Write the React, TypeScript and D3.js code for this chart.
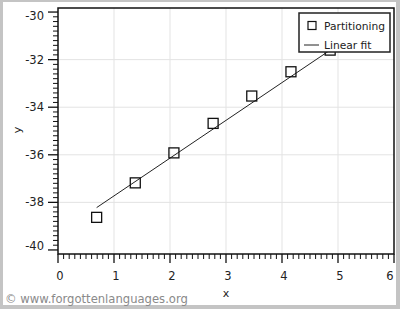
import React from "react";
import * as d3 from "d3";

const xValues = [0.69, 1.38, 2.07, 2.77, 3.46, 4.16, 4.86];
const yValues = [-38.63, -37.18, -35.92, -34.68, -33.53, -32.51, -31.6];
const fitX = [0.69, 4.86];
const fitY = [-38.22, -31.6];
const xTickValues = [0, 1, 2, 3, 4, 5, 6];
const yTickValues = [-30, -32, -34, -36, -38, -40];
const legendLabels = ["Partitioning", "Linear fit"];

const W = 400, H = 309;
const L = 58, R = 394, T = 8, B = 254;
const FONT = "'DejaVu Sans', sans-serif";

export default function App() {
  const x = d3.scaleLinear().domain([0, 6]).range([L, R]);
  const y = d3.scaleLinear().domain([-40.17, -29.83]).range([B, T]);
  const xMinor = d3.range(0, 60).map((i) => i / 10).filter((v) => Math.abs(v - Math.round(v)) > 1e-6);
  const yMinor = d3.range(-200, -149).map((i) => i / 5).filter((v) => v % 2 !== 0 && v >= -40.17 && v <= -29.83);
  const line = d3.line<number>().x((_, i) => x(fitX[i])).y((d) => y(d));
  const sq = 10;
  return (
    <svg width={W} height={H} style={{ position: "absolute", left: 0, top: 0 }} fontFamily={FONT}>
      <rect x={0} y={0} width={W} height={H} fill="#c4c4c4" />
      <rect x={3} y={2} width={393} height={303} fill="#ffffff" />
      {/* grid */}
      {xTickValues.slice(1, -1).map((v) => (
        <line key={"gx" + v} x1={x(v)} x2={x(v)} y1={T} y2={B} stroke="#e3e3e3" strokeWidth={1} />
      ))}
      {yTickValues.slice(1, -1).map((v) => (
        <line key={"gy" + v} x1={L} x2={R} y1={y(v)} y2={y(v)} stroke="#e3e3e3" strokeWidth={1} />
      ))}
      {/* fit line */}
      <path d={line(fitY) || ""} fill="none" stroke="#222" strokeWidth={1} />
      {/* points */}
      {xValues.map((v, i) => (
        <rect key={"p" + i} x={x(v) - sq / 2} y={y(yValues[i]) - sq / 2} width={sq} height={sq} fill="none" stroke="#111" strokeWidth={1.3} />
      ))}
      {/* frame */}
      <rect x={L} y={T} width={R - L} height={B - T} fill="none" stroke="#111" strokeWidth={1.5} />
      {/* x ticks */}
      {xMinor.map((v) => (
        <line key={"xm" + v} x1={x(v)} x2={x(v)} y1={B} y2={B + 5} stroke="#111" strokeWidth={1} />
      ))}
      {xTickValues.map((v) => (
        <line key={"xM" + v} x1={x(v)} x2={x(v)} y1={B} y2={B + 9} stroke="#111" strokeWidth={1.3} />
      ))}
      {xTickValues.map((v) => (
        <text key={"xl" + v} x={v === 6 ? x(v) - 4 : x(v) + 2} y={280} fontSize={11.5} fill="#222" textAnchor="middle">
          {v}
        </text>
      ))}
      {/* y ticks */}
      {yMinor.map((v) => (
        <line key={"ym" + v} x1={L - 5} x2={L} y1={y(v)} y2={y(v)} stroke="#111" strokeWidth={1} />
      ))}
      {yTickValues.map((v) => (
        <line key={"yM" + v} x1={L - 10} x2={L} y1={y(v)} y2={y(v)} stroke="#111" strokeWidth={1.3} />
      ))}
      {yTickValues.map((v) => (
        <text key={"yl" + v} x={44} y={v === -30 ? y(v) + 8 : v === -40 ? y(v) : y(v) + 4} fontSize={11.5} fill="#222" textAnchor="end">
          {v}
        </text>
      ))}
      {/* axis titles */}
      <text x={226} y={297} fontSize={11} fill="#222" textAnchor="middle">x</text>
      <text transform={`translate(21,130) rotate(-90)`} fontSize={11} fill="#222" textAnchor="middle">y</text>
      {/* legend */}
      <rect x={299} y={13} width={91} height={39} fill="#fff" stroke="#222" strokeWidth={1.5} />
      <rect x={308} y={21.5} width={8} height={8} fill="none" stroke="#111" strokeWidth={1.2} />
      <text x={324} y={30} fontSize={10.7} fill="#222">{legendLabels[0]}</text>
      <line x1={304} x2={319} y1={45} y2={45} stroke="#222" strokeWidth={1} />
      <text x={324} y={49} fontSize={10.7} fill="#222">{legendLabels[1]}</text>
      {/* watermark */}
      <text x={5} y={303} fontSize={11.6} fill="#8a8a8a">© www.forgottenlanguages.org</text>
    </svg>
  );
}
